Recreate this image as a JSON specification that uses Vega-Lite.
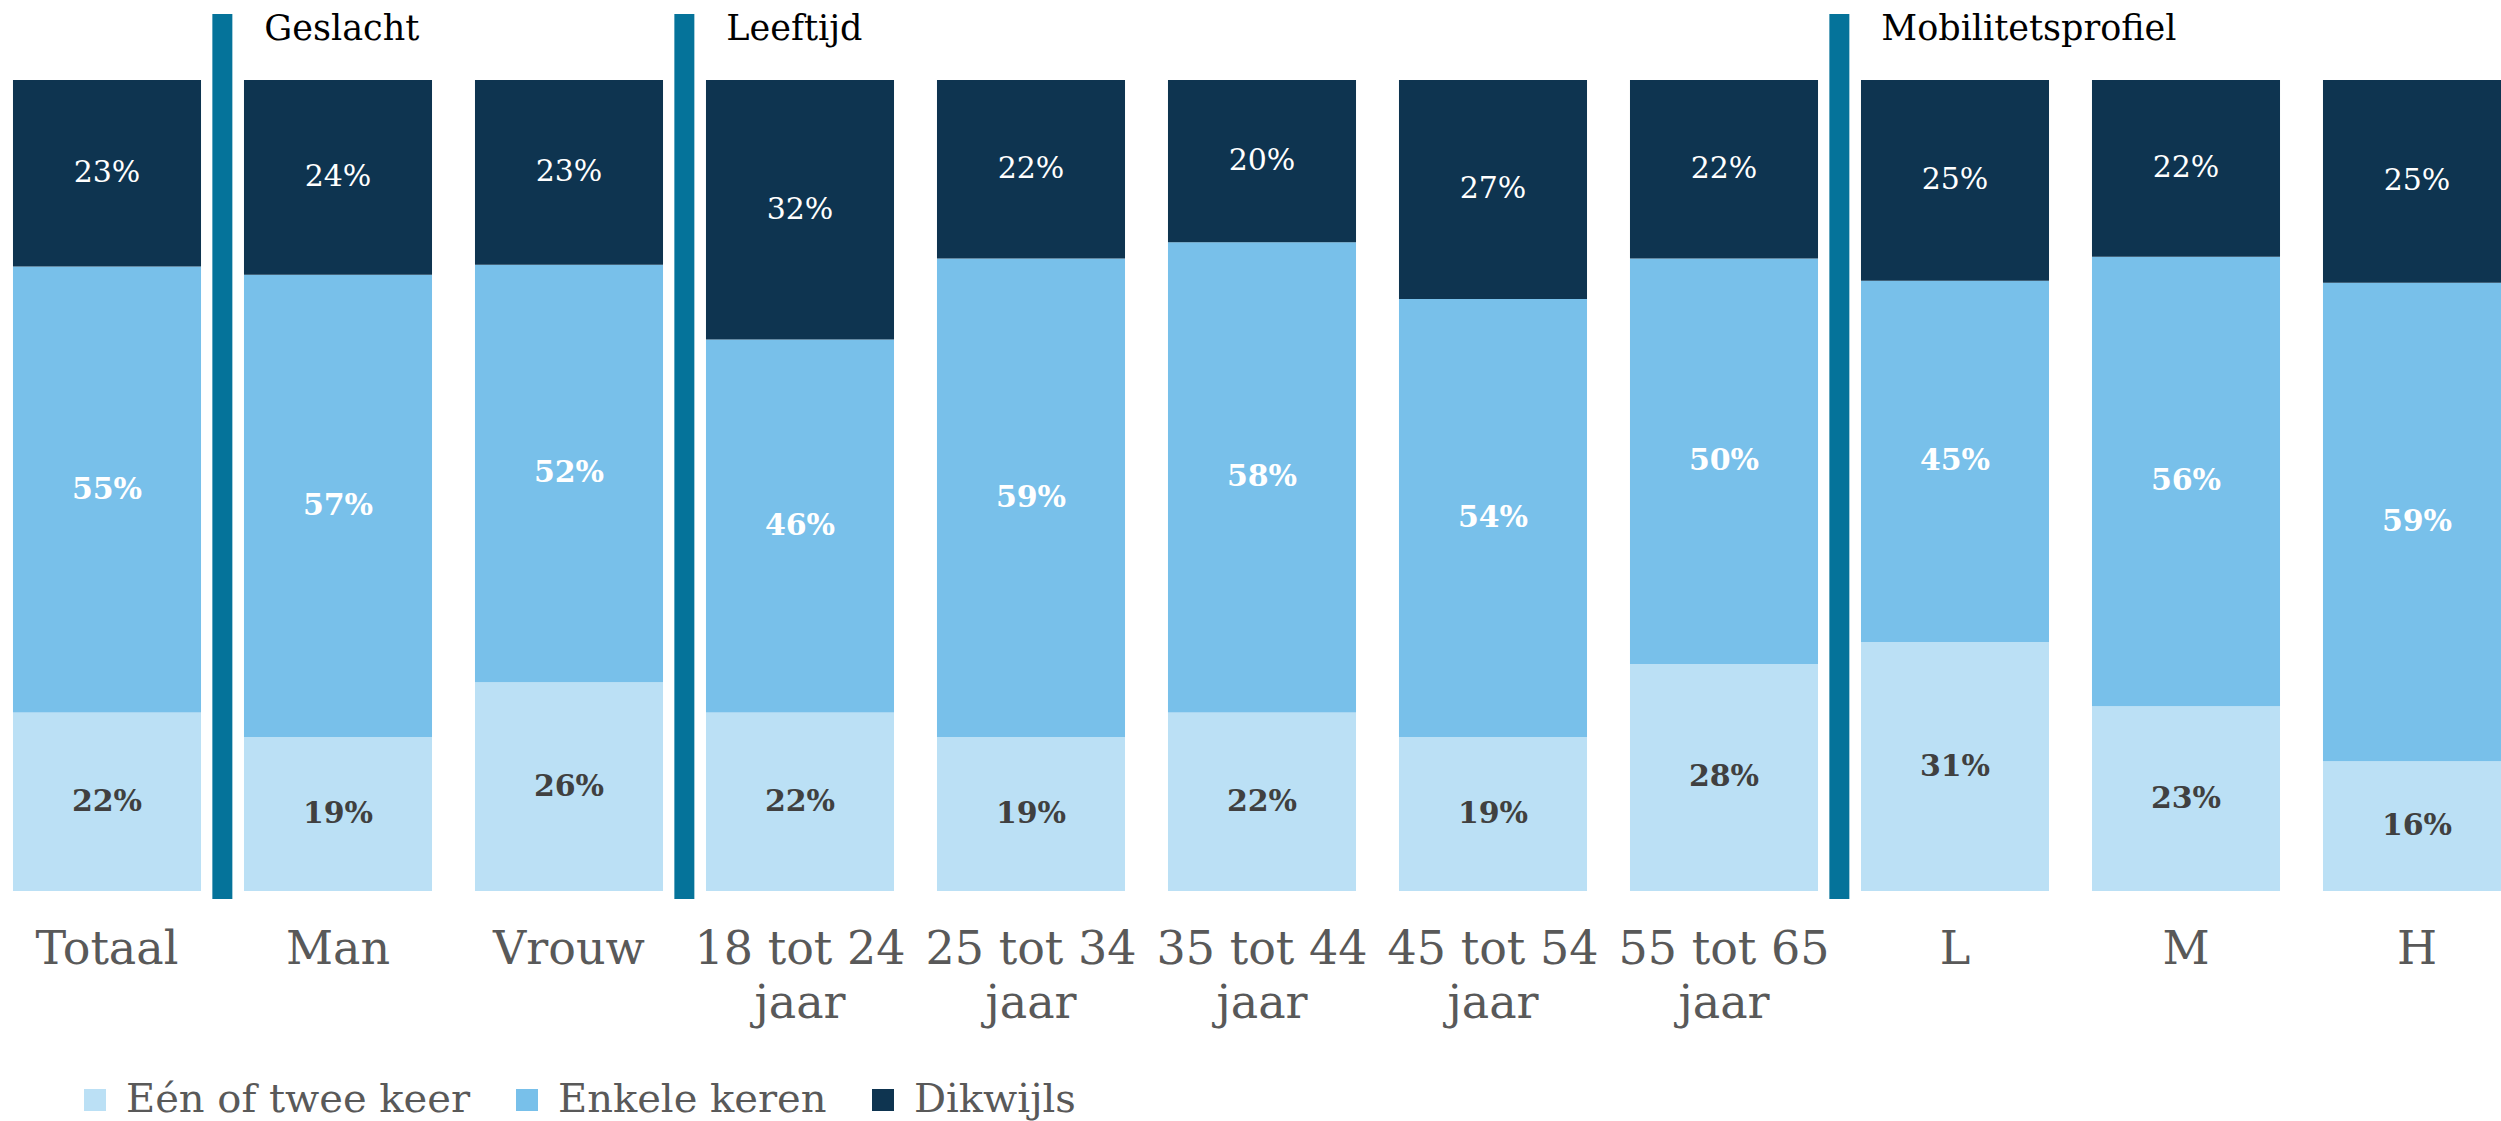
{
  "$schema": "https://vega.github.io/schema/vega-lite/v6.json",
  "autosize": "none",
  "width": 2501,
  "height": 885,
  "padding": {"top": 14, "left": 0, "right": 0, "bottom": 222},
  "background": "white",
  "config": {
    "view": {"stroke": null},
    "axis": {"grid": false},
    "legend": {"labelFont": "DejaVu Serif", "labelFontSize": 40, "labelColor": "#595959"}
  },
  "datasets": {
    "main": [
      {"cat": "Totaal", "series": "Eén of twee keer", "k": 1, "v": 0.22},
      {"cat": "Totaal", "series": "Enkele keren", "k": 2, "v": 0.55},
      {"cat": "Totaal", "series": "Dikwijls", "k": 3, "v": 0.23},
      {"cat": "Man", "series": "Eén of twee keer", "k": 1, "v": 0.19},
      {"cat": "Man", "series": "Enkele keren", "k": 2, "v": 0.57},
      {"cat": "Man", "series": "Dikwijls", "k": 3, "v": 0.24},
      {"cat": "Vrouw", "series": "Eén of twee keer", "k": 1, "v": 0.26},
      {"cat": "Vrouw", "series": "Enkele keren", "k": 2, "v": 0.52},
      {"cat": "Vrouw", "series": "Dikwijls", "k": 3, "v": 0.23},
      {"cat": "18 tot 24 jaar", "series": "Eén of twee keer", "k": 1, "v": 0.22},
      {"cat": "18 tot 24 jaar", "series": "Enkele keren", "k": 2, "v": 0.46},
      {"cat": "18 tot 24 jaar", "series": "Dikwijls", "k": 3, "v": 0.32},
      {"cat": "25 tot 34 jaar", "series": "Eén of twee keer", "k": 1, "v": 0.19},
      {"cat": "25 tot 34 jaar", "series": "Enkele keren", "k": 2, "v": 0.59},
      {"cat": "25 tot 34 jaar", "series": "Dikwijls", "k": 3, "v": 0.22},
      {"cat": "35 tot 44 jaar", "series": "Eén of twee keer", "k": 1, "v": 0.22},
      {"cat": "35 tot 44 jaar", "series": "Enkele keren", "k": 2, "v": 0.58},
      {"cat": "35 tot 44 jaar", "series": "Dikwijls", "k": 3, "v": 0.20},
      {"cat": "45 tot 54 jaar", "series": "Eén of twee keer", "k": 1, "v": 0.19},
      {"cat": "45 tot 54 jaar", "series": "Enkele keren", "k": 2, "v": 0.54},
      {"cat": "45 tot 54 jaar", "series": "Dikwijls", "k": 3, "v": 0.27},
      {"cat": "55 tot 65 jaar", "series": "Eén of twee keer", "k": 1, "v": 0.28},
      {"cat": "55 tot 65 jaar", "series": "Enkele keren", "k": 2, "v": 0.50},
      {"cat": "55 tot 65 jaar", "series": "Dikwijls", "k": 3, "v": 0.22},
      {"cat": "L", "series": "Eén of twee keer", "k": 1, "v": 0.31},
      {"cat": "L", "series": "Enkele keren", "k": 2, "v": 0.45},
      {"cat": "L", "series": "Dikwijls", "k": 3, "v": 0.25},
      {"cat": "M", "series": "Eén of twee keer", "k": 1, "v": 0.23},
      {"cat": "M", "series": "Enkele keren", "k": 2, "v": 0.56},
      {"cat": "M", "series": "Dikwijls", "k": 3, "v": 0.22},
      {"cat": "H", "series": "Eén of twee keer", "k": 1, "v": 0.16},
      {"cat": "H", "series": "Enkele keren", "k": 2, "v": 0.59},
      {"cat": "H", "series": "Dikwijls", "k": 3, "v": 0.25}
    ],
    "groups": [
      {"after": "Totaal", "header": "Geslacht"},
      {"after": "Vrouw", "header": "Leeftijd"},
      {"after": "55 tot 65 jaar", "header": "Mobilitetsprofiel"}
    ]
  },
  "layer": [
    {
      "data": {"name": "main"},
      "mark": {"type": "bar"},
      "encoding": {
        "x": {
          "field": "cat", "type": "nominal", "title": null,
          "scale": {
            "domain": ["Totaal", "Man", "Vrouw", "18 tot 24 jaar", "25 tot 34 jaar", "35 tot 44 jaar", "45 tot 54 jaar", "55 tot 65 jaar", "L", "M", "H"],
            "range": [-8.5, 2532.5],
            "paddingInner": 0.186,
            "paddingOuter": 0.093
          },
          "axis": {
            "orient": "bottom",
            "domain": false, "ticks": false, "tickSize": 0,
            "labelAngle": 0, "labelLimit": 0,
            "labelFont": "DejaVu Serif", "labelFontSize": 46, "labelColor": "#595959",
            "labelBaseline": "alphabetic", "labelPadding": 64, "labelLineHeight": 54,
            "labelExpr": "indexof(datum.label, ' jaar') > 0 ? [slice(datum.label, 0, indexof(datum.label, ' jaar')), 'jaar'] : datum.label"
          }
        },
        "y": {
          "field": "v", "type": "quantitative", "stack": "normalize", "axis": null,
          "scale": {"domain": [0, 1], "range": [877, 66], "nice": false}
        },
        "color": {
          "field": "series", "type": "nominal",
          "scale": {
            "domain": ["Eén of twee keer", "Enkele keren", "Dikwijls"],
            "range": ["#BBE0F5", "#78C0EA", "#0E3450"]
          },
          "legend": {
            "title": null, "orient": "none", "direction": "horizontal",
            "legendX": 75, "legendY": 1066, "padding": 0,
            "symbolType": "square", "symbolSize": 484, "symbolStrokeWidth": 0,
            "labelFont": "DejaVu Serif", "labelFontSize": 40, "labelColor": "#595959",
            "labelOffset": 11, "columnPadding": 36, "labelLimit": 0
          }
        },
        "order": {"field": "k", "type": "quantitative"}
      }
    },
    {
      "data": {"name": "main"},
      "mark": {"type": "text", "font": "DejaVu Serif", "fontSize": 30, "fontWeight": "bold", "baseline": "middle", "align": "center"},
      "encoding": {
        "x": {"field": "cat", "type": "nominal"},
        "y": {"field": "v", "type": "quantitative", "stack": "normalize", "bandPosition": 0.5},
        "detail": {"field": "series", "type": "nominal"},
        "order": {"field": "k", "type": "quantitative"},
        "text": {"field": "v", "type": "quantitative", "format": ".0%"},
        "color": {"condition": {"test": "datum.series === 'Eén of twee keer'", "value": "#404040"}, "value": "#FFFFFF"},
        "opacity": {"condition": {"test": "datum.series === 'Dikwijls'", "value": 0}, "value": 1}
      }
    },
    {
      "data": {"name": "main"},
      "mark": {"type": "text", "font": "DejaVu Serif", "fontSize": 30, "fontWeight": "normal", "baseline": "middle", "align": "center", "color": "#FFFFFF"},
      "encoding": {
        "x": {"field": "cat", "type": "nominal"},
        "y": {"field": "v", "type": "quantitative", "stack": "normalize", "bandPosition": 0.5},
        "detail": {"field": "series", "type": "nominal"},
        "order": {"field": "k", "type": "quantitative"},
        "text": {"field": "v", "type": "quantitative", "format": ".0%"},
        "opacity": {"condition": {"test": "datum.series === 'Dikwijls'", "value": 1}, "value": 0}
      }
    },
    {
      "data": {"name": "groups"},
      "mark": {"type": "rule", "color": "#05739A", "strokeWidth": 20},
      "encoding": {
        "x": {"field": "after", "type": "nominal", "bandPosition": 1.1135}
      }
    },
    {
      "data": {"name": "groups"},
      "mark": {"type": "text", "font": "DejaVu Serif", "fontSize": 35, "align": "left", "baseline": "middle", "dx": 42, "color": "#000000"},
      "encoding": {
        "x": {"field": "after", "type": "nominal", "bandPosition": 1.1135},
        "y": {"datum": 1.063, "type": "quantitative"},
        "text": {"field": "header", "type": "nominal"}
      }
    }
  ]
}
